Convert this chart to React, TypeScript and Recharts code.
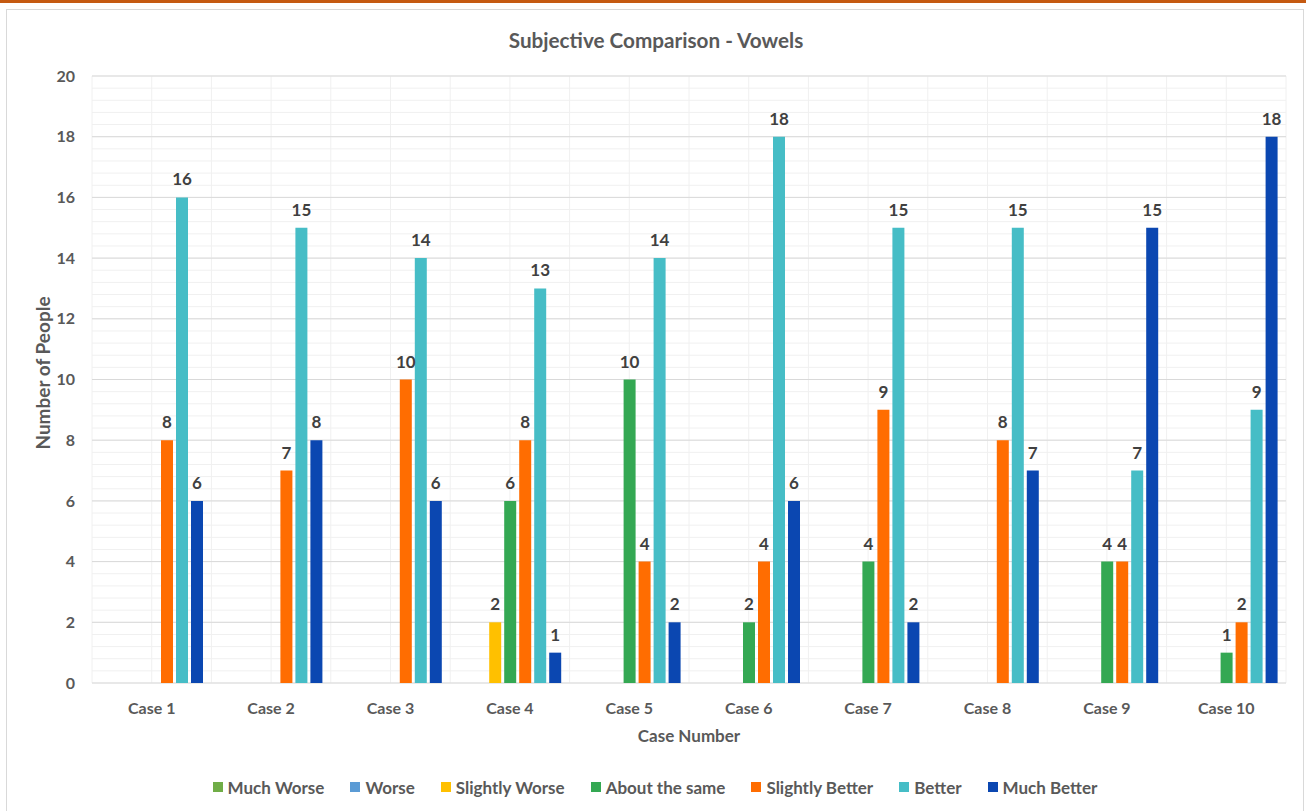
import React from 'react'
import { Bar, BarChart, CartesianGrid, LabelList, XAxis, YAxis } from 'recharts'

const CASES = ['Case 1', 'Case 2', 'Case 3', 'Case 4', 'Case 5', 'Case 6', 'Case 7', 'Case 8', 'Case 9', 'Case 10']

const MUCH_WORSE = [0, 0, 0, 0, 0, 0, 0, 0, 0, 0]
const WORSE = [0, 0, 0, 0, 0, 0, 0, 0, 0, 0]
const SLIGHTLY_WORSE = [0, 0, 0, 2, 0, 0, 0, 0, 0, 0]
const ABOUT_THE_SAME = [0, 0, 0, 6, 10, 2, 4, 0, 4, 1]
const SLIGHTLY_BETTER = [8, 7, 10, 8, 4, 4, 9, 8, 4, 2]
const BETTER = [16, 15, 14, 13, 14, 18, 15, 15, 7, 9]
const MUCH_BETTER = [6, 8, 6, 1, 2, 6, 2, 7, 15, 18]

const Y_TICKS = [0, 2, 4, 6, 8, 10, 12, 14, 16, 18, 20]
// light lines between the major ticks, five per step
const Y_MINOR = Array.from({ length: 51 }, (_, i) => i * 0.4)

const SERIES = [
  { key: 'muchWorse', name: 'Much Worse', color: '#70AD47', values: MUCH_WORSE },
  { key: 'worse', name: 'Worse', color: '#5B9BD5', values: WORSE },
  { key: 'slightlyWorse', name: 'Slightly Worse', color: '#FFC000', values: SLIGHTLY_WORSE },
  { key: 'aboutSame', name: 'About the same', color: '#34A853', values: ABOUT_THE_SAME },
  { key: 'slightlyBetter', name: 'Slightly Better', color: '#FF6D01', values: SLIGHTLY_BETTER },
  { key: 'better', name: 'Better', color: '#46BDC6', values: BETTER },
  { key: 'muchBetter', name: 'Much Better', color: '#0B47B1', values: MUCH_BETTER },
]

const data = CASES.map((name, i) => {
  const row: Record<string, string | number> = { name }
  SERIES.forEach((s) => {
    row[s.key] = s.values[i]
  })
  return row
})

const FONT = 'Lato, "Open Sans", sans-serif'
const TEXT = '#595959'

const W = 1306
const H = 811

const callScale = (axis: any, v: any): number | undefined => {
  const s = axis?.scale
  if (typeof s === 'function') return s(v)
  if (s && typeof s.map === 'function') return s.map(v)
  return undefined
}

// minor horizontal lines every 0.4 units
const minorRows = ({ yAxis, offset }: any) =>
  Y_MINOR.map((v, i) => {
    const y = callScale(yAxis, v)
    return typeof y === 'number' && !Number.isNaN(y)
      ? y
      : offset.top + offset.height - (i * offset.height) / (Y_MINOR.length - 1)
  })

// vertical lines at each case boundary and mid-point
const caseColumns = ({ xAxis, offset }: any) => {
  const band = xAxis?.scale?.bandwidth ? xAxis.scale.bandwidth() : offset.width / CASES.length
  const pts: number[] = []
  CASES.forEach((c, i) => {
    const start = callScale(xAxis, c)
    const x0 = typeof start === 'number' && !Number.isNaN(start) ? start : offset.left + i * band
    pts.push(x0, x0 + band / 2)
  })
  pts.push(offset.left + offset.width)
  return pts
}

const renderValue = (props: any) => {
  const { x, y, width, value } = props
  if (!value) return null
  return (
    <text
      x={Number(x) + Number(width) / 2}
      y={Number(y) - 12}
      textAnchor="middle"
      fontFamily={FONT}
      fontSize={17}
      fontWeight={700}
      fill="#404040"
    >
      {value}
    </text>
  )
}

export default function App() {
  return (
    <div style={{ position: 'absolute', left: 0, top: 0, width: W, height: H, background: '#fff', overflow: 'hidden', fontFamily: FONT }}>
      <div style={{ position: 'absolute', left: 0, top: 0, width: W, height: 3, background: '#C55A11' }} />
      <div style={{ position: 'absolute', left: 6, top: 9, width: 1296, height: 820, border: '1px solid #D9D9D9' }} />

      <div
        style={{
          position: 'absolute', left: 0, width: 1312, top: 30, textAlign: 'center',
          fontSize: 20.7, fontWeight: 700, lineHeight: 1, color: TEXT,
        }}
      >
        Subjective Comparison - Vowels
      </div>

      <div style={{ position: 'absolute', left: 0, top: 0 }}>
        <BarChart
          width={W}
          height={H}
          data={data}
          margin={{ top: 76, right: 20, bottom: 88, left: 52 }}
          barGap={3}
          barSize={12}
        >
          <CartesianGrid
            stroke="#F0F0F0"
            horizontalCoordinatesGenerator={minorRows}
            verticalCoordinatesGenerator={caseColumns}
          />
          <CartesianGrid stroke="#D9D9D9" vertical={false} />
          <XAxis
            dataKey="name"
            height={40}
            tickLine={false}
            axisLine={false}
            tickSize={0}
            tickMargin={20}
            interval={0}
            tick={{ fill: TEXT, fontSize: 16, fontWeight: 700, fontFamily: FONT }}
          />
          <YAxis
            width={40}
            domain={[0, 20]}
            ticks={Y_TICKS}
            interval={0}
            tickLine={false}
            axisLine={false}
            tickSize={0}
            tickMargin={17}
            tick={{ fill: TEXT, fontSize: 16, fontWeight: 700, fontFamily: FONT }}
          />
          {SERIES.map((s) => (
            <Bar key={s.key} dataKey={s.key} name={s.name} fill={s.color} isAnimationActive={false}>
              <LabelList dataKey={s.key} content={renderValue} />
            </Bar>
          ))}
        </BarChart>
      </div>

      <div
        style={{
          position: 'absolute', left: 42, top: 373, transform: 'translate(-50%, -50%) rotate(-90deg)',
          whiteSpace: 'nowrap', fontSize: 19, fontWeight: 700, lineHeight: 1, color: TEXT,
        }}
      >
        Number of People
      </div>

      <div
        style={{
          position: 'absolute', left: 92, width: 1194, top: 727, textAlign: 'center',
          fontSize: 17, fontWeight: 700, lineHeight: 1, color: TEXT,
        }}
      >
        Case Number
      </div>

      <div
        style={{
          position: 'absolute', left: 6, width: 1298, top: 777, height: 20,
          display: 'flex', alignItems: 'center', justifyContent: 'center', gap: 26,
        }}
      >
        {SERIES.map((s) => (
          <div key={s.key} style={{ display: 'flex', alignItems: 'center', gap: 5 }}>
            <span style={{ display: 'inline-block', width: 10, height: 10, background: s.color }} />
            <span style={{ fontSize: 17, fontWeight: 700, lineHeight: 1, color: TEXT }}>{s.name}</span>
          </div>
        ))}
      </div>
    </div>
  )
}
